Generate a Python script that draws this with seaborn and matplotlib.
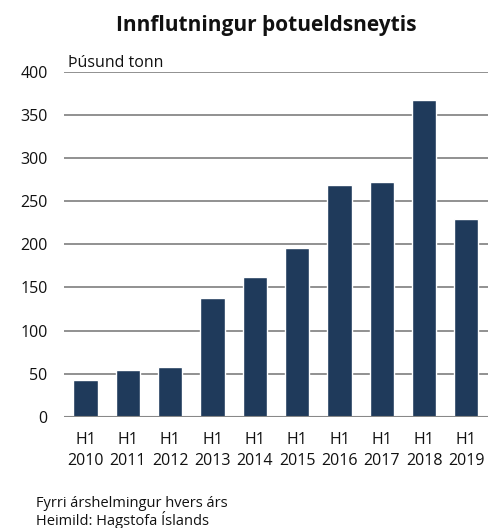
import pandas as pd
import matplotlib.pyplot as plt
import seaborn as sns

# Gögn lesin af myndinni (þúsund tonn, fyrri árshelmingur)
ar = ["2010", "2011", "2012", "2013", "2014", "2015", "2016", "2017", "2018", "2019"]
magn = [43, 54, 58, 138, 162, 196, 269, 272, 368, 230]
merki = ["H1\n" + a for a in ar]

BAR_COLOR = "#1F3A5B"
GRID_COLOR = "#888888"


def main():
    df = pd.DataFrame({"Tímabil": merki, "Magn": magn})

    sns.set_theme(style="white")
    plt.rcParams["font.family"] = ["Open Sans", "DejaVu Sans"]

    fig = plt.figure(figsize=(4.95, 5.28), dpi=100)
    ax = fig.add_axes([0.130, 0.211, 0.855, 0.652])

    sns.barplot(data=df, x="Tímabil", y="Magn", color=BAR_COLOR,
                width=0.57, saturation=1, ax=ax, zorder=3)

    ax.set_ylim(0, 400)
    ax.set_yticks(range(0, 401, 50))
    ax.yaxis.grid(True, color=GRID_COLOR, linewidth=1.3, zorder=0)
    ax.set_axisbelow(True)
    for s in ax.spines.values():
        s.set_visible(False)
    ax.axhline(0, color=GRID_COLOR, linewidth=1.5, zorder=4)

    ax.set_xlabel("")
    ax.set_ylabel("")
    ax.tick_params(axis="both", length=0, labelsize=11.5, colors="#111111")
    ax.tick_params(axis="x", pad=11)
    ax.tick_params(axis="y", pad=12)
    for t in ax.get_xticklabels():
        t.set_linespacing(1.45)

    fig.text(0.538, 0.952, "Innflutningur þotueldsneytis", ha="center",
             va="center", fontsize=15, fontweight="bold", color="#111111")
    ax.text(0.008, 1.003, "Þúsund tonn", transform=ax.transAxes,
            ha="left", va="bottom", fontsize=11.5, color="#111111")
    fig.text(0.073, 0.047, "Fyrri árshelmingur hvers árs", ha="left",
             va="center", fontsize=10.5, color="#111111")
    fig.text(0.073, 0.015, "Heimild: Hagstofa Íslands", ha="left",
             va="center", fontsize=10.5, color="#111111")

    fig.savefig("out.png", dpi=100)


if __name__ == "__main__":
    main()
